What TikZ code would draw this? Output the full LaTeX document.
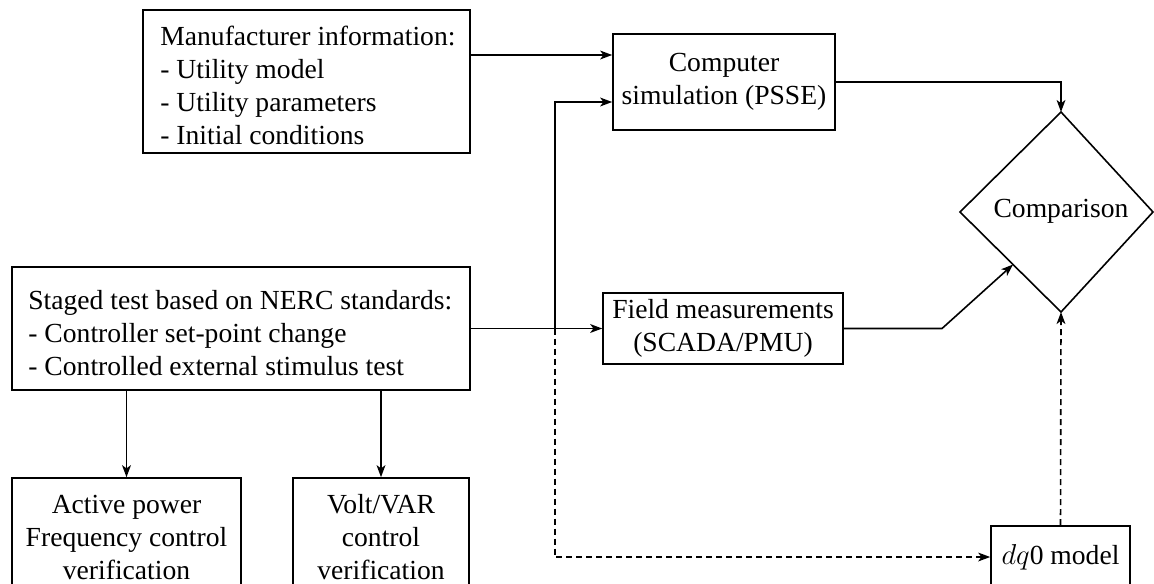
\documentclass[tikz,border=0pt]{standalone}
\usepackage{fontspec}
\setmainfont{Liberation Serif}
\usetikzlibrary{arrows.meta,calc}
\begin{document}
\begin{tikzpicture}[x=0.5pt,y=-0.5pt,
  every node/.style={font=\fontsize{13.8pt}{16.5pt}\selectfont},
  frame/.style={draw,line width=0.8pt,rectangle,inner sep=0pt,anchor=center},
  ltext/.style={align=left,inner sep=0pt,anchor=west},
  cbox/.style={draw,line width=0.8pt,rectangle,align=center,inner xsep=4pt,inner ysep=0pt,anchor=center},
  arr/.style={line width=0.8pt,-{Stealth[length=6pt,width=4.4pt,inset=1.6pt]}},
  ln/.style={line width=0.8pt},
  dsh/.style={dash pattern=on 3pt off 2pt}]
\clip (0,0) rectangle (1154,583);
% boxes
\node[frame,minimum width=163.5pt,minimum height=71.5pt] (manu) at (306.5,81.5) {};
\node[ltext] (manuT) at (160,85)
  {Manufacturer information:\\- Utility model\\- Utility parameters\\- Initial conditions};
\node[frame,minimum width=229pt,minimum height=61.5pt] (stg) at (241,328.5) {};
\node[ltext] (stgT) at (28,333)
  {Staged test based on NERC standards:\\- Controller set-point change\\- Controlled external stimulus test};
\node[cbox,minimum width=111pt,minimum height=48pt] (comp) at (724,82)
  {Computer\\simulation (PSSE)};
\node[cbox,minimum width=120pt,minimum height=35.5pt] (fld) at (723,328.5)
  {Field measurements\\(SCADA/PMU)};
\node[cbox,minimum width=69.5pt,minimum height=31pt] (dq) at (1060.5,557)
  {$dq$0 model};
\node[cbox,minimum width=114.5pt,minimum height=59pt] (act) at (126.5,537)
  {Active power\\Frequency control\\verification};
\node[cbox,minimum width=88pt,minimum height=59pt] (volt) at (381,537)
  {Volt/VAR\\control\\verification};
% diamond
\coordinate (dT) at (1061,112);
\coordinate (dL) at (960,212);
\coordinate (dR) at (1153,212);
\coordinate (dB) at (1061,312);
\draw[ln,line join=miter] (dT) -- (dR) -- (dB) -- (dL) -- cycle;
\node (cmp) at (1061,211) {Comparison};
% helper coordinates
\coordinate (y55) at (0,55);
\coordinate (y102) at (0,102);
\coordinate (x942) at (942,0);
\coordinate (cin1) at (comp.west |- y55);
\coordinate (cin2) at (comp.west |- y102);
\path (stg.east) -- (fld.west) coordinate[pos=0.64] (J);
\coordinate (fk) at (fld.east -| x942);
\coordinate (dLB) at ($(dL)!0.525!(dB)$);
% connectors
\draw[arr] (manu.east |- cin1) -- (cin1);
\draw[arr] (J) |- (cin2);
\draw[arr] (stg.east) -- (fld.west);
\draw[arr,dsh] (J) |- (dq.west);
\draw[arr] (comp.east) -| (dT);
\draw[arr] (fld.east) -- (fk) -- (dLB);
\draw[arr,dsh] (dq.north) -- (dB);
\draw[arr] (stg.south -| act.north) -- (act.north);
\draw[arr] (stg.south -| volt.north) -- (volt.north);
\end{tikzpicture}
\end{document}
